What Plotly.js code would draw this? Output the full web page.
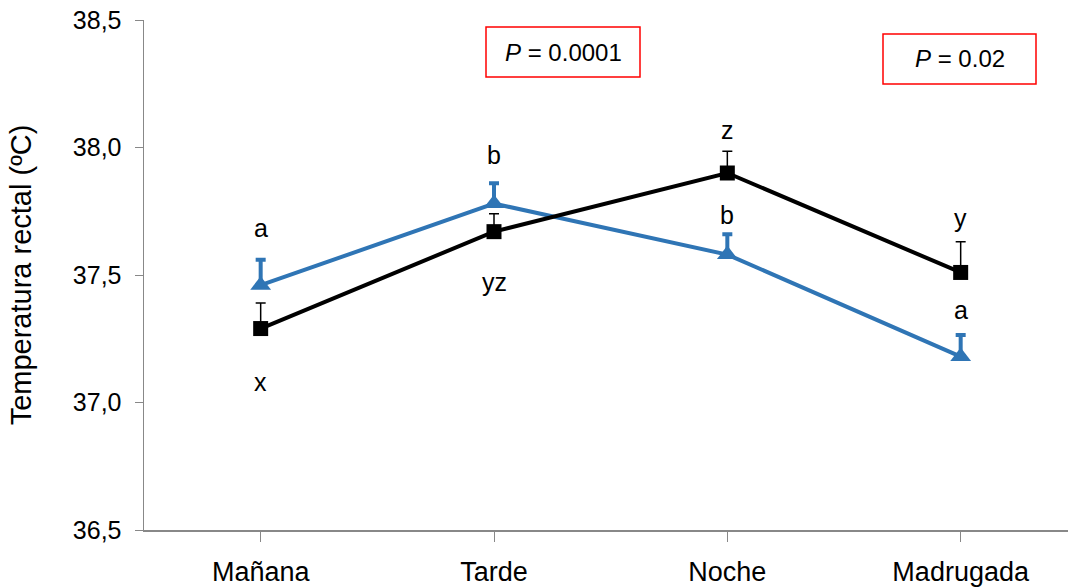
<!DOCTYPE html>
<html>
<head>
<meta charset="utf-8">
<script src="https://cdn.plot.ly/plotly-3.0.1.min.js"></script>
<style>html,body{margin:0;padding:0;background:#fff;}#chart{width:1068px;height:588px;}</style>
</head>
<body>
<div id="chart"></div>
<script>
// Data
const categories = ['Mañana', 'Tarde', 'Noche', 'Madrugada'];
const blackValues = [37.29, 37.67, 37.90, 37.51];
const blackErrors = [0.10, 0.07, 0.085, 0.12];
const blueValues = [37.46, 37.78, 37.58, 37.18];
const blueErrors = [0.10, 0.08, 0.08, 0.085];
const blackLetters = ['x', 'yz', 'z', 'y'];
const blueLetters = ['a', 'b', 'b', 'a'];
const pLabels = ['<i>P</i> = 0.0001', '<i>P</i> = 0.02'];
const yTickVals = [36.5, 37.0, 37.5, 38.0, 38.5];

const FONT = 'Liberation Sans, Arial, sans-serif';
const BLUE = '#2F75B5';
const xIdx = categories.map((c, i) => i);

const traces = [
  {
    x: xIdx, y: blueValues, type: 'scatter', mode: 'lines+markers',
    line: {color: BLUE, width: 4},
    marker: {symbol: 'triangle-up', size: 18, color: BLUE},
    error_y: {type: 'data', array: blueErrors, symmetric: false, arrayminus: [0,0,0,0], color: BLUE, thickness: 4, width: 5},
    hoverinfo: 'skip', showlegend: false
  },
  {
    x: xIdx, y: blackValues, type: 'scatter', mode: 'lines+markers',
    line: {color: '#000000', width: 4},
    marker: {symbol: 'square', size: 15, color: '#000000'},
    error_y: {type: 'data', array: blackErrors, symmetric: false, arrayminus: [0,0,0,0], color: '#000000', thickness: 1.5, width: 5},
    hoverinfo: 'skip', showlegend: false
  }
];

// letter label placements (layout)
const blueLetterY = [37.685, 37.97, 37.735, 37.363];
const blackLetterY = [37.08, 37.473, 38.069, 37.724];
const annotations = [];
blueLetters.forEach((t, i) => annotations.push({x: i, y: blueLetterY[i], xref: 'x', yref: 'y', text: t, showarrow: false, font: {family: FONT, size: 25, color: '#000'}}));
blackLetters.forEach((t, i) => annotations.push({x: i, y: blackLetterY[i], xref: 'x', yref: 'y', text: t, showarrow: false, font: {family: FONT, size: 25, color: '#000'}}));

// P-value boxes
const boxes = [
  {x0: 486, x1: 640, y0: 27, y1: 77},
  {x0: 883, x1: 1036, y0: 34, y1: 84}
];
const L = 144, T = 20, W = 924, H = 510;
const shapes = boxes.map(b => ({
  type: 'rect', xref: 'paper', yref: 'paper',
  x0: (b.x0 - L) / W, x1: (b.x1 - L) / W,
  y0: 1 - (b.y1 - T) / H, y1: 1 - (b.y0 - T) / H,
  line: {color: '#FF0000', width: 1.5}, fillcolor: 'rgba(0,0,0,0)'
}));
pLabels.forEach((t, i) => {
  const b = boxes[i];
  annotations.push({
    xref: 'paper', yref: 'paper',
    x: ((b.x0 + b.x1) / 2 - L) / W, y: 1 - ((b.y0 + b.y1) / 2 - T) / H,
    text: t, showarrow: false, xanchor: 'center', yanchor: 'middle',
    font: {family: FONT, size: 24, color: '#000'}
  });
});

const layout = {
  width: 1068, height: 588,
  margin: {l: L, r: 0, t: T, b: 58},
  paper_bgcolor: '#fff', plot_bgcolor: '#fff',
  separators: ',.',
  font: {family: FONT, color: '#000'},
  xaxis: {
    range: [-0.5, 3.46], tickvals: xIdx, ticktext: categories,
    tickson: 'boundaries', ticks: 'outside', ticklen: 10, tickcolor: '#888', tickwidth: 1,
    showline: true, linecolor: '#888', linewidth: 1.5, showgrid: false, zeroline: false,
    tickfont: {family: FONT, size: 27, color: '#000'}, ticklabelstandoff: 7
  },
  yaxis: {
    range: [36.5, 38.5], tickvals: yTickVals, tickformat: '.1f',
    ticks: 'outside', ticklen: 8, tickcolor: '#888', tickwidth: 1,
    showline: true, linecolor: '#888', linewidth: 1.5, showgrid: false, zeroline: false,
    tickfont: {family: FONT, size: 25, color: '#000'}, ticklabelstandoff: 8,
    title: {text: 'Temperatura rectal (ºC)', font: {family: FONT, size: 29, color: '#000'}, standoff: 32}
  },
  shapes: shapes,
  annotations: annotations
};

Plotly.newPlot('chart', traces, layout, {displayModeBar: false, staticPlot: true});
</script>
</body>
</html>
